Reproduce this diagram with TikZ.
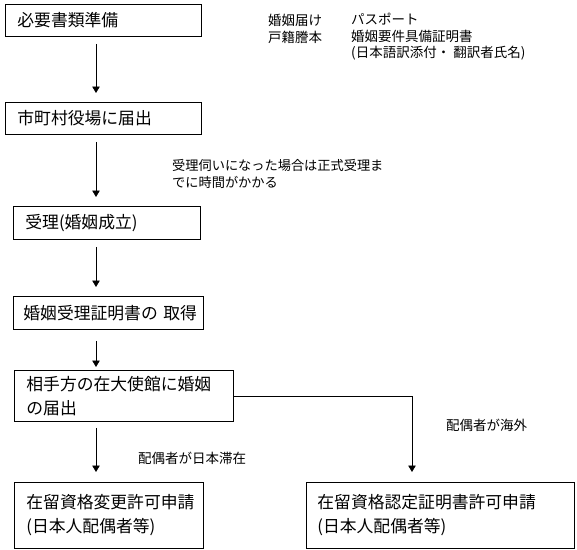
\documentclass[tikz,border=0pt]{standalone}
\usepackage{fontspec}
\setmainfont{Noto Sans CJK JP}
\usetikzlibrary{arrows.meta}
\tikzset{
  procbox/.style={draw,line width=0.8pt,anchor=north west,inner xsep=12pt,inner ysep=0pt,
    align=left,font=\fontsize{16.8pt}{24pt}\selectfont},
  memo/.style={anchor=west,inner sep=0pt,align=left,font=\fontsize{13.5pt}{16.5pt}\selectfont},
  link/.style={line width=0.8pt,-{Triangle[length=6.5pt,width=7.5pt]},shorten <=7pt,shorten >=9pt}
}

\begin{document}
\begin{tikzpicture}[x=1pt,y=-1pt]
\useasboundingbox (0,0) rectangle (577,549);
\coordinate (spine) at (96,0); \coordinate (turn) at (412,0);
% flow boxes
\node[procbox,text width=172pt,minimum height=32pt] (b1) at (5,4) {必要書類準備};
\node[procbox,text width=172pt,minimum height=32pt] (b2) at (5,102) {市町村役場に届出};
\node[procbox,text width=163pt,minimum height=33pt] (b3) at (13,206) {受理(婚姻成立)};
\node[procbox,text width=170pt,minimum height=33pt,inner xsep=10pt] (b4) at (13,296) {婚姻受理証明書の~取得};
\node[procbox,text width=195pt,minimum height=51pt] (b5) at (14,370) {相手方の在大使館に婚姻\\の届出};
\node[procbox,text width=165pt,minimum height=66pt] (b6) at (14,482) {在留資格変更許可申請\\(日本人配偶者等)};
\node[procbox,text width=246pt,minimum height=66pt,inner xsep=11pt] (b7) at (306,482) {在留資格認定証明書許可申請\\(日本人配偶者等)};
% notes
\node[memo] (docs1) at (268,29) {婚姻届け\\戸籍謄本};
\node[memo] (docs2) at (351,37) {パスポート\\婚姻要件具備証明書\\(日本語訳添付・ 翻訳者氏名)};
\node[memo,font=\fontsize{13.2pt}{17pt}\selectfont] (wait) at (172,173.5) {受理伺いになった場合は正式受理ま\\でに時間がかかる};
\node[memo] (stay) at (138,458) {配偶者が日本滞在};
\node[memo] (abroad) at (446,425) {配偶者が海外};
% connectors
\draw[link] (b1.south -| spine) -- (b2.north -| spine);
\draw[link] (b2.south -| spine) -- (b3.north -| spine);
\draw[link] (b3.south -| spine) -- (b4.north -| spine);
\draw[link,shorten <=11pt,shorten >=3pt] (b4.south -| spine) -- (b5.north -| spine);
\draw[link,shorten <=6pt,shorten >=10pt] (b5.south -| spine) -- (b6.north -| spine);
\draw[link,shorten <=0pt,shorten >=10pt] (b5.east) -| (b7.north -| turn);
\end{tikzpicture}
\end{document}
